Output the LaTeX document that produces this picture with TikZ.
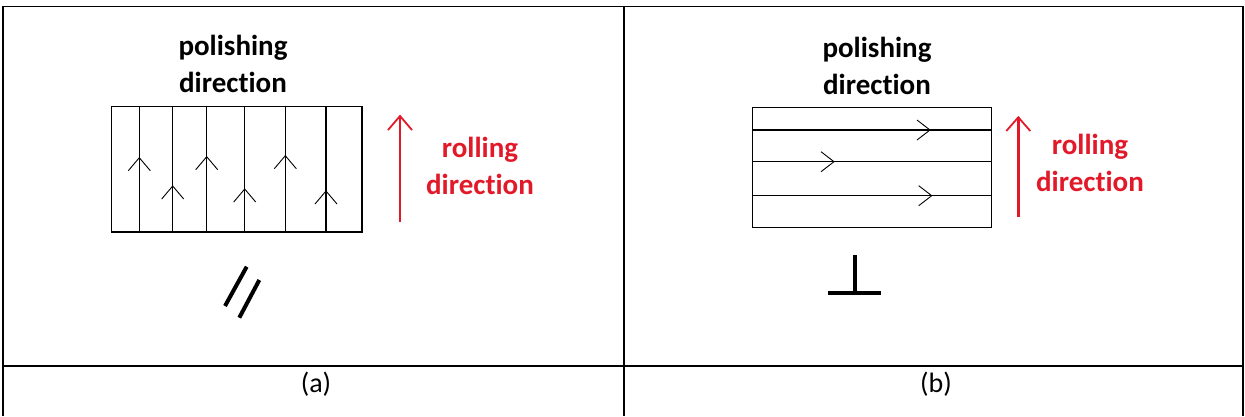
\documentclass[tikz,border=0pt]{standalone}
\usepackage{fontspec}
\setmainfont{Carlito}[Ligatures=NoCommon]
\definecolor{rd}{RGB}{225,25,40}
\begin{document}
\begin{tikzpicture}[x=1pt,y=-1pt,
  tbl/.style={line width=1.2pt},
  sepline/.style={line width=2.2pt},
  box/.style={line width=1.3pt},
  stria/.style={line width=1.1pt},
  chev/.style={line width=0.9pt},
  roll/.style={rd,line width=2.4pt},
  sym/.style={line width=4pt},
  lbl/.style={font=\fontsize{29}{37}\selectfont\bfseries,align=center,inner sep=0pt},
  rlbl/.style={lbl,text=rd},
  captxt/.style={font=\fontsize{28}{32}\selectfont,inner sep=0pt}]
\useasboundingbox (0,0) rectangle (1245,416);
% table
\draw[tbl] (3,416) -- (3,6.5) -- (1243,6.5) -- (1243,416);
\draw[tbl] (624,6.5) -- (624,416);
\draw[sepline] (3,366) -- (1243,366);
\node[captxt] (capa) at (316,384) {(a)};
\node[captxt] (capb) at (936,384) {(b)};
% ---------- panel (a)
\node[lbl] (pola) at (233,64) {polishing\\direction};
\draw[box] (111.5,106.5) rectangle (362,232);
\foreach \x/\t in {139.3/157.7,172.7/186,206.7/156.7,244.7/189,285.3/155.7,326/191}{
  \draw[stria] (\x,106.5) -- (\x,232);
  \draw[chev] (\x-11,\t+13) -- (\x,\t) -- (\x+11,\t+13);
}
\coordinate (ra0) at (400,222);
\coordinate (ra1) at (400,116);
\draw[roll] (ra0) -- (ra1);
\draw[roll,line width=1.8pt] (388,130) -- (ra1) -- (412,130);
\node[rlbl] (rola) at (480,166) {rolling\\direction};
\draw[sym] (246.7,266.7) -- (225,306);
\draw[sym] (259.3,280) -- (239.3,317.7);
% ---------- panel (b)
\node[lbl] (polb) at (877,66) {polishing\\direction};
\draw[box] (752.7,107.3) rectangle (991.7,227.3);
\foreach \y/\t in {130/930,161.7/834,195.7/931.7}{
  \draw[stria] (752.7,\y) -- (991.7,\y);
  \draw[chev] (\t-13,\y-10) -- (\t,\y) -- (\t-13,\y+10);
}
\coordinate (rb0) at (1018.3,217);
\coordinate (rb1) at (1018.3,117.3);
\draw[roll] (rb0) -- (rb1);
\draw[roll,line width=1.8pt] (1006.3,131) -- (rb1) -- (1030.3,131);
\node[rlbl] (rolb) at (1090,163) {rolling\\direction};
\draw[sym] (855,255) -- (855,293.3);
\draw[sym] (828.3,293.3) -- (880.7,293.3);
\end{tikzpicture}
\end{document}
